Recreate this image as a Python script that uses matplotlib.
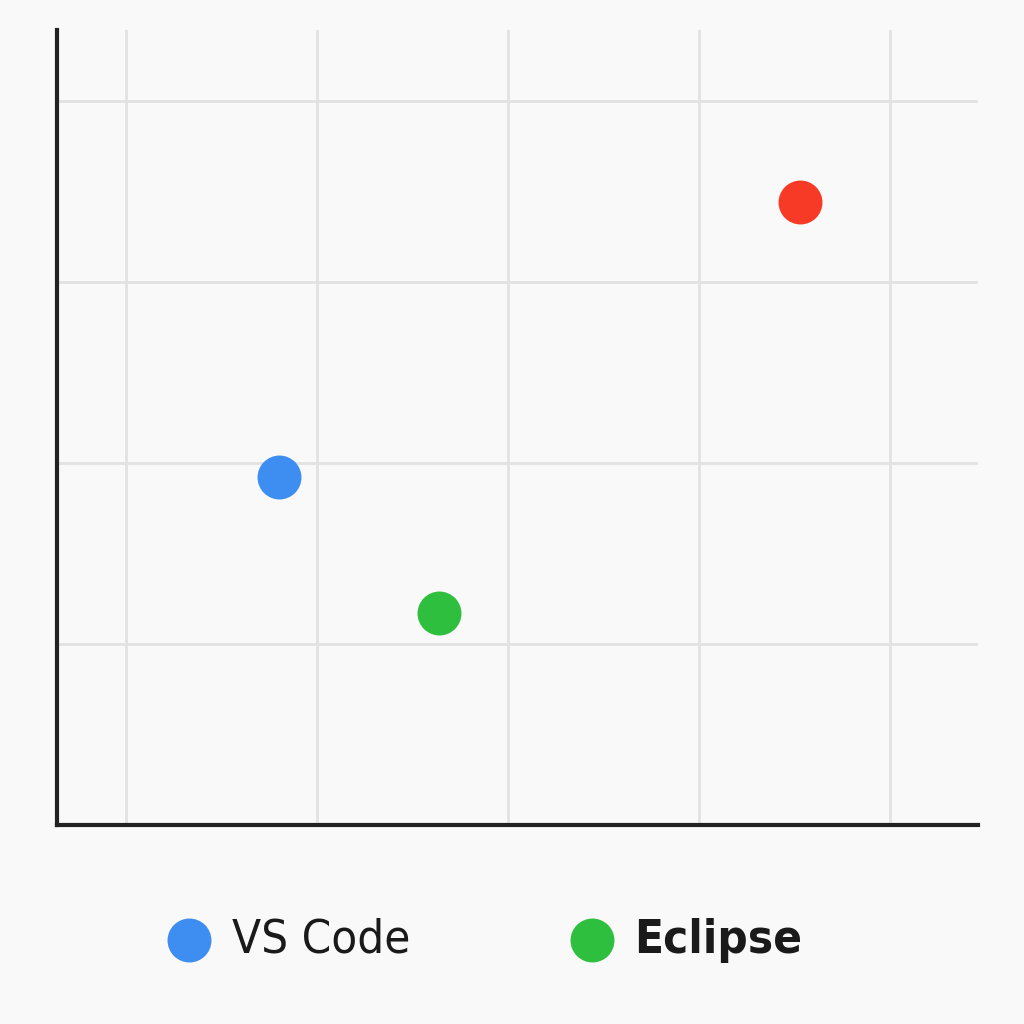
import matplotlib
matplotlib.use("Agg")
import matplotlib.pyplot as plt
from matplotlib import font_manager

names = ["VS Code", "Eclipse", "Other"]
x_vals = [1.80, 2.64, 4.53]
y_vals = [1.92, 1.17, 3.44]
colors = ["#3d8ef0", "#2fbf3f", "#f63a26"]
in_legend = [True, True, False]

x_grid = [1, 2, 3, 4, 5]
y_grid = [1, 2, 3, 4]

bg = "#f9f9f9"
fig = plt.figure(figsize=(10.24, 10.24), dpi=100, facecolor=bg)
ax = fig.add_axes([0.0557, 0.1943, 0.8993, 0.7764], facecolor=bg)

for n, x, y, c, lg in zip(names, x_vals, y_vals, colors, in_legend):
    ax.scatter([x], [y], s=1000, color=c, label=n if lg else "_nolegend_",
               zorder=3, linewidths=0)

ax.set_xlim(0.64, 5.46)
ax.set_ylim(0, 4.39)
ax.set_xticks(x_grid)
ax.set_yticks(y_grid)
ax.tick_params(length=0, labelbottom=False, labelleft=False)
ax.grid(True, color="#e2e2e2", linewidth=2)
for s in ["top", "right"]:
    ax.spines[s].set_visible(False)
for s in ["left", "bottom"]:
    ax.spines[s].set_linewidth(3)
    ax.spines[s].set_color("#222222")

leg = fig.legend(loc="center", bbox_to_anchor=(0.474, 0.082), ncol=2, frameon=False,
                 prop={"family": "DejaVu Sans", "size": 34, "stretch": "condensed"},
                 handletextpad=0.45, columnspacing=3.4, handlelength=0.9, scatterpoints=1)
texts = leg.get_texts()
texts[1].set_fontweight("bold")
for t in texts:
    t.set_color("#1a1a1a")

fig.savefig("out.png", dpi=100, facecolor=bg)
